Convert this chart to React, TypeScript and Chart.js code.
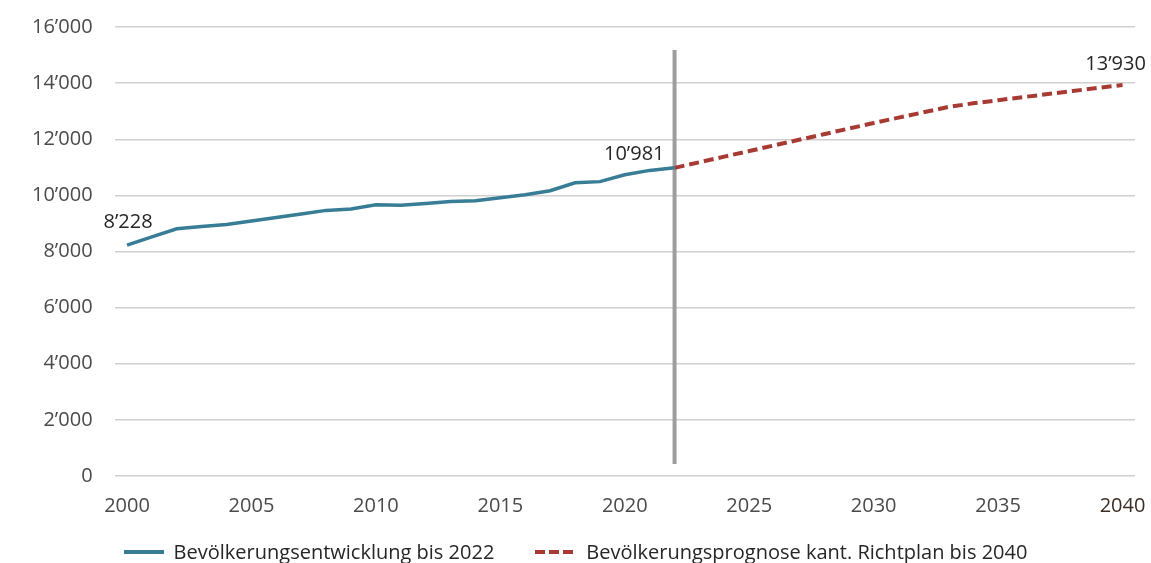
import { useEffect, useRef } from "react";
import { Chart, registerables } from "chart.js";

Chart.register(...registerables);

const historyYears = [
  2000, 2001, 2002, 2003, 2004, 2005, 2006, 2007, 2008, 2009, 2010, 2011,
  2012, 2013, 2014, 2015, 2016, 2017, 2018, 2019, 2020, 2021, 2022,
];
const historyValues = [
  8228, 8520, 8810, 8890, 8960, 9085, 9215, 9335, 9465, 9515, 9665, 9645,
  9710, 9785, 9810, 9915, 10020, 10165, 10450, 10490, 10735, 10890, 10981,
];

const forecastYears = [
  2022, 2023, 2024, 2025, 2026, 2027, 2028, 2029, 2030, 2031, 2032, 2033,
  2034, 2035, 2036, 2037, 2038, 2039, 2040,
];
const forecastValues = [
  10981, 11180, 11380, 11580, 11780, 11980, 12180, 12380, 12580, 12770,
  12960, 13150, 13280, 13390, 13500, 13610, 13720, 13830, 13930,
];

const yTicks = [0, 2000, 4000, 6000, 8000, 10000, 12000, 14000, 16000];
const seriesNames = [
  "Bevölkerungsentwicklung bis 2022",
  "Bevölkerungsprognose kant. Richtplan bis 2040",
];
const markerYear = 2022;

const FONT = "'Open Sans', sans-serif";
const BLUE = "#377d95";
const RED = "#a73b33";

const fmt = (v: number) => {
  const s = String(Math.round(v));
  return s.replace(/\B(?=(\d{3})+(?!\d))/g, "\u2019");
};

const categories = [...historyYears, ...forecastYears.slice(1)].map(String);

const overlay = {
  id: "overlay",
  beforeDatasetsDraw(chart: any) {
    const { ctx, chartArea, scales } = chart;
    const x = scales.x.getPixelForValue(categories.indexOf(String(markerYear)));
    ctx.save();
    ctx.strokeStyle = "#9d9d9d";
    ctx.lineWidth = 4;
    ctx.beginPath();
    ctx.moveTo(x, chartArea.top + 23);
    ctx.lineTo(x, chartArea.bottom - 12);
    ctx.stroke();
    ctx.restore();
  },
  afterDatasetsDraw(chart: any) {
    const { ctx } = chart;
    const h = chart.getDatasetMeta(0).data;
    const f = chart.getDatasetMeta(1).data;
    const first = h[0];
    const last = h[historyValues.length - 1];
    const end = f[f.length - 1];
    ctx.save();
    ctx.fillStyle = "#262626";
    ctx.font = `20px ${FONT}`;
    ctx.textBaseline = "alphabetic";
    ctx.textAlign = "center";
    ctx.fillText(fmt(historyValues[0]), first.x + 1, first.y - 17);
    ctx.textAlign = "right";
    ctx.fillText(fmt(historyValues[historyValues.length - 1]), last.x - 10, last.y - 8);
    ctx.textAlign = "center";
    ctx.fillText(fmt(forecastValues[forecastValues.length - 1]), end.x - 7, end.y - 15);
    ctx.restore();
  },
};

function LegendItem({ color, dashed, label, gap }: { color: string; dashed?: boolean; label: string; gap: number }) {
  return (
    <div style={{ display: "flex", alignItems: "center" }}>
      <svg width={40} height={6} style={{ marginRight: gap }}>
        <line
          x1={dashed ? 2 : 0}
          y1={3}
          x2={40}
          y2={3}
          stroke={color}
          strokeWidth={4}
          strokeDasharray={dashed ? "10 4" : undefined}
        />
      </svg>
      <span>{label}</span>
    </div>
  );
}

export default function App() {
  const ref = useRef<HTMLCanvasElement>(null);

  useEffect(() => {
    document.body.style.margin = "0";
    const canvas = ref.current;
    if (!canvas) return;

    const chart = new Chart(canvas, {
      type: "line",
      data: {
        labels: categories,
        datasets: [
          {
            label: seriesNames[0],
            data: historyYears.map((y, i) => ({ x: String(y), y: historyValues[i] })),
            borderColor: BLUE,
            backgroundColor: BLUE,
            borderWidth: 3.5,
            pointRadius: 0,
            tension: 0,
          },
          {
            label: seriesNames[1],
            data: forecastYears.map((y, i) => ({ x: String(y), y: forecastValues[i] })),
            borderColor: RED,
            backgroundColor: RED,
            borderWidth: 4,
            borderDash: [10, 5],
            pointRadius: 0,
            tension: 0,
          },
        ],
      },
      options: {
        animation: false,
        responsive: true,
        maintainAspectRatio: false,
        layout: { padding: { top: 27, right: 16, left: 10, bottom: 35 } },
        plugins: {
          legend: { display: false },
          tooltip: { enabled: false },
        },
        scales: {
          x: {
            type: "category",
            offset: true,
            grid: { display: false },
            border: { display: false },
            afterFit: (axis: any) => {
              axis.paddingLeft = 0;
              axis.paddingRight = 0;
            },
            ticks: {
              autoSkip: false,
              maxRotation: 0,
              padding: 10,
              font: { family: FONT, size: 20 },
              color: (c: any) => (c.tick && c.tick.label === "2040" ? "#3a2d24" : "#4a4a4a"),
              callback: (_v: any, i: number) =>
                Number(categories[i]) % 5 === 0 ? categories[i] : "",
            },
          },
          y: {
            min: yTicks[0],
            max: yTicks[yTicks.length - 1],
            afterBuildTicks: (axis: any) => {
              axis.ticks = yTicks.map((v) => ({ value: v }));
            },
            afterFit: (axis: any) => {
              axis.paddingTop = 0;
              axis.paddingBottom = 0;
            },
            grid: { color: "#d0d0d0", lineWidth: 1.5, drawTicks: false },
            border: { display: false },
            ticks: {
              padding: 22,
              font: { family: FONT, size: 20 },
              color: "#4a4a4a",
              callback: (v: any) => fmt(Number(v)),
            },
          },
        },
      },
      plugins: [overlay],
    });
    return () => chart.destroy();
  }, []);

  return (
    <div style={{ position: "relative", width: 1151, height: 563, overflow: "hidden" }}>
      <canvas ref={ref} />
      <div
        style={{
          position: "absolute",
          left: 0,
          right: 0,
          top: 540,
          display: "flex",
          justifyContent: "center",
          gap: 39,
          fontFamily: FONT,
          fontSize: 20,
          lineHeight: "24px",
          color: "#262626",
          whiteSpace: "nowrap",
        }}
      >
        <LegendItem color={BLUE} label={seriesNames[0]} gap={10} />
        <LegendItem color={RED} dashed label={seriesNames[1]} gap={13} />
      </div>
    </div>
  );
}
